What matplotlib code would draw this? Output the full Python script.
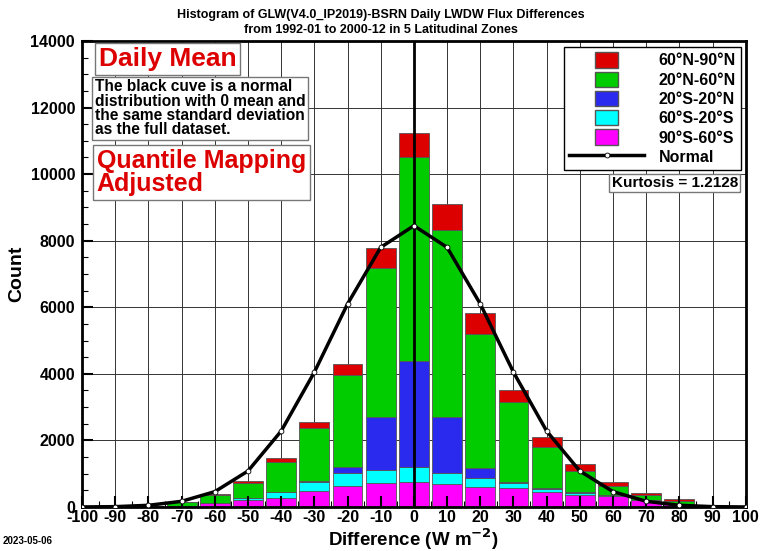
import numpy as np
import matplotlib
matplotlib.use("Agg")
import matplotlib.pyplot as plt
from matplotlib.patches import Patch, Rectangle
from matplotlib.lines import Line2D
from matplotlib.legend_handler import HandlerPatch

plt.rcParams['font.family'] = ['Liberation Sans', 'DejaVu Sans']
plt.rcParams['font.weight'] = 'bold'
plt.rcParams['axes.unicode_minus'] = False
plt.rcParams['mathtext.default'] = 'bf'

# bin centres (W m-2)
centers = [-90, -80, -70, -60, -50, -40, -30, -20, -10, 0,
           10, 20, 30, 40, 50, 60, 70, 80, 90]
# counts per zone (stacked bottom -> top)
s90_60 = [5, 10, 30, 120, 210, 280, 480, 630, 720, 750,
          690, 600, 570, 450, 360, 330, 210, 100, 15]
s60_20 = [0, 0, 5, 10, 50, 160, 280, 390, 390, 450,
          330, 270, 150, 90, 60, 15, 5, 0, 0]
s20_n20 = [0, 0, 0, 0, 10, 20, 30, 180, 1590, 3200,
           1680, 300, 30, 30, 30, 5, 0, 0, 0]
n20_60 = [10, 20, 110, 230, 450, 890, 1580, 2760, 4480, 6100,
          5620, 4030, 2400, 1230, 630, 280, 145, 90, 15]
n60_90 = [0, 5, 15, 20, 60, 120, 180, 330, 600, 750,
          780, 630, 360, 300, 210, 120, 60, 50, 5]

zones = ["90°S-60°S", "60°S-20°S", "20°S-20°N", "20°N-60°N", "60°N-90°N"]
zone_colors = ["#ff00ff", "#00ffff", "#2a2aee", "#00cc00", "#dd0000"]

# normal curve
norm_x = [-100, -90, -80, -70, -60, -50, -40, -30, -20, -10, 0,
          10, 20, 30, 40, 50, 60, 70, 80, 90, 100]
norm_y = [0, 10, 50, 170, 460, 1080, 2280, 4050, 6100, 7800, 8450,
          7800, 6100, 4050, 2280, 1080, 460, 170, 50, 10, 0]

xticks = np.arange(-100, 101, 10)
yticks = np.arange(0, 14001, 2000)


def small_box(legend, orig_handle, xdescent, ydescent, width, height, fontsize):
    w = width * 0.3
    return Rectangle((-xdescent + (width - w) / 2, -ydescent), w, height)


fig = plt.figure(figsize=(7.61, 5.51), dpi=100)
ax = fig.add_axes([0.1078, 0.0799, 0.8722, 0.8457])
ax.set_axisbelow(False)

# grid behind the bars, tick marks stay on top
for xv in xticks:
    ax.axvline(xv, color="#333333", lw=0.7, zorder=0.5)
for yv in yticks:
    ax.axhline(yv, color="#333333", lw=0.7, zorder=0.5)

bottom = np.zeros(len(centers))
for vals, c in zip([s90_60, s60_20, s20_n20, n20_60, n60_90], zone_colors):
    ax.bar(centers, vals, width=9, bottom=bottom, color=c,
           edgecolor="#555555", linewidth=0.6, zorder=2)
    bottom += np.array(vals)

ax.axvline(0, color="black", lw=2, zorder=4)
ax.plot(norm_x, norm_y, color="black", lw=2.5, marker="o", ms=3.5,
        mfc="white", mec="black", mew=0.6, zorder=5)

ax.set_xlim(-100, 100)
ax.set_ylim(0, 14000)
ax.set_xticks(xticks)
ax.set_yticks(yticks)
ax.set_yticks(np.arange(0, 14001, 500), minor=True)
ax.set_xticks(np.arange(-100, 101, 5), minor=True)
ax.tick_params(which="major", direction="in", length=8, width=1.5,
               labelsize=11.5, pad=2, top=False, right=False)
ax.tick_params(axis="y", which="major", pad=5)
ax.tick_params(which="minor", direction="in", length=4, width=0.8)
for lab in ax.get_xticklabels() + ax.get_yticklabels():
    lab.set_fontweight("bold")
for sp in ax.spines.values():
    sp.set_linewidth(2)

ax.set_xlabel("Difference (W m$^{-2}$)", fontsize=13.5,
              fontweight="bold", labelpad=1)
ax.set_ylabel("Count", fontsize=14, fontweight="bold", labelpad=4)

fig.text(0.5, 0.972, "Histogram of GLW(V4.0_IP2019)-BSRN Daily LWDW Flux Differences",
         ha="center", va="center", fontsize=9, fontweight="bold")
fig.text(0.5, 0.945, "from 1992-01 to 2000-12 in 5 Latitudinal Zones",
         ha="center", va="center", fontsize=9, fontweight="bold")
fig.text(0.004, 0.012, "2023-05-06", fontsize=7, fontweight="bold")

box = dict(boxstyle="square,pad=0.15", fc="white", ec="#777777", lw=1)
ax.text(0.025, 0.988, "Daily Mean", transform=ax.transAxes, color="#dd0000",
        fontsize=19, fontweight="bold", va="top", bbox=box, zorder=6)
ax.text(0.019, 0.918, "The black cuve is a normal\ndistribution with 0 mean and\n"
        "the same standard deviation\nas the full dataset.",
        transform=ax.transAxes, fontsize=11.2, fontweight="bold", va="top",
        linespacing=0.95, bbox=box, zorder=6)
ax.text(0.022, 0.768, "Quantile Mapping\nAdjusted", transform=ax.transAxes,
        color="#dd0000", fontsize=18, fontweight="bold", va="top",
        linespacing=0.95, bbox=box, zorder=6)

handles = [Patch(facecolor=c, edgecolor="#555555", label=z)
           for z, c in zip(zones[::-1], zone_colors[::-1])]
handles.append(Line2D([0], [0], color="black", lw=2.5, marker="o", ms=3.5,
                      mfc="white", mec="black", mew=0.6, label="Normal"))
leg = ax.legend(handles=handles, loc="upper right", bbox_to_anchor=(0.997, 0.993),
                prop=dict(size=11.5, weight="bold"), fancybox=False,
                framealpha=1, edgecolor="black", handlelength=4.7,
                handleheight=1.1, labelspacing=0.2, borderpad=0.3,
                handletextpad=0.9, borderaxespad=0.2,
                handler_map={Patch: HandlerPatch(patch_func=small_box)})
leg.get_frame().set_linewidth(1)
leg.set_zorder(7)

ax.text(0.988, 0.71, "Kurtosis = 1.2128", transform=ax.transAxes, ha="right",
        va="top", fontsize=11, fontweight="bold",
        bbox=dict(boxstyle="square,pad=0.15", fc="white", ec="#777777", lw=1),
        zorder=8)

fig.savefig("out.png", dpi=100)
